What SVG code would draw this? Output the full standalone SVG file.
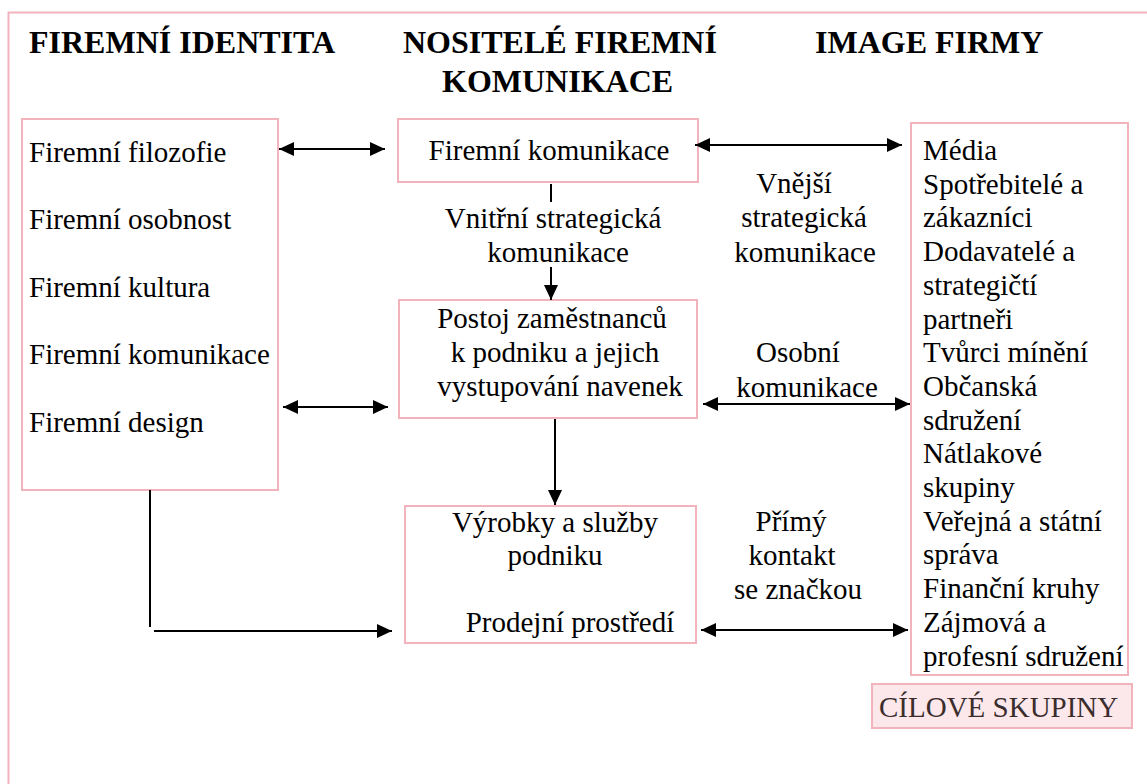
<svg xmlns="http://www.w3.org/2000/svg" width="1147" height="784" viewBox="0 0 1147 784" font-family="Liberation Serif, serif">
<style>
text{font-family:'Liberation Serif',serif;font-size:29px;fill:#000}
.h{font-weight:bold;font-size:32px}
.m{text-anchor:middle}
.box{fill:#fff;stroke:#f2b3bc;stroke-width:2}
.ln{stroke:#000;stroke-width:2;fill:none}
</style>
<defs>
<marker id="ah" viewBox="0 0 15 14" refX="15" refY="7" markerWidth="15" markerHeight="14" markerUnits="userSpaceOnUse" orient="auto-start-reverse">
<path d="M0,0 L15,7 L0,14 z" fill="#000"/>
</marker>
</defs>
<rect x="0" y="0" width="1147" height="784" fill="#fff"/>
<rect id="frame" x="8.5" y="12.5" width="1200" height="800" fill="none" stroke="#f2b3bc" stroke-width="2"/>
<g id="headings">
<text class="h" x="29" y="53">FIREMNÍ IDENTITA</text>
<text class="h" x="403" y="53">NOSITELÉ FIREMNÍ</text>
<text class="h" x="442" y="92">KOMUNIKACE</text>
<text class="h" x="815" y="53">IMAGE FIRMY</text>
</g>
<g id="identita">
<rect class="box" x="22" y="119" width="256" height="371"/>
<text x="29" y="162">Firemní filozofie</text>
<text x="29" y="229">Firemní osobnost</text>
<text x="29" y="297">Firemní kultura</text>
<text x="29" y="364">Firemní komunikace</text>
<text x="29" y="432">Firemní design</text>
</g>
<g id="komunikace">
<rect class="box" x="398" y="119" width="300" height="63"/>
<text class="m" x="549" y="160">Firemní komunikace</text>
</g>
<g id="postoj">
<rect class="box" x="399" y="300" width="298" height="118"/>
<text class="m" x="552" y="328">Postoj zaměstnanců</text>
<text class="m" x="555" y="362">k podniku a jejich</text>
<text class="m" x="560" y="396">vystupování navenek</text>
</g>
<g id="vyrobky">
<rect class="box" x="405" y="506" width="291" height="137"/>
<text class="m" x="555" y="532">Výrobky a služby</text>
<text class="m" x="555" y="565">podniku</text>
<text class="m" x="570" y="632">Prodejní prostředí</text>
</g>
<g id="skupiny">
<rect class="box" x="911" y="123" width="217" height="552"/>
<text x="923" y="160">Média</text>
<text x="923" y="193.7">Spotřebitelé a</text>
<text x="923" y="227.4">zákazníci</text>
<text x="923" y="261.1">Dodavatelé a</text>
<text x="923" y="294.8">strategičtí</text>
<text x="923" y="328.5">partneři</text>
<text x="923" y="362.2">Tvůrci mínění</text>
<text x="923" y="395.9">Občanská</text>
<text x="923" y="429.6">sdružení</text>
<text x="923" y="463.3">Nátlakové</text>
<text x="923" y="497">skupiny</text>
<text x="923" y="530.7">Veřejná a státní</text>
<text x="923" y="564.4">správa</text>
<text x="923" y="598.1">Finanční kruhy</text>
<text x="923" y="631.8">Zájmová a</text>
<text x="923" y="665.5">profesní sdružení</text>
</g>
<g id="cilove">
<rect x="872" y="684" width="260" height="44" fill="#fce8ea" stroke="#f2b3bc" stroke-width="2"/>
<text x="879" y="717" style="fill:#3b2d2d">CÍLOVÉ SKUPINY</text>
</g>
<g id="labels">
<text class="m" x="553" y="228">Vnitřní strategická</text>
<text class="m" x="558" y="262">komunikace</text>
<text class="m" x="794" y="193">Vnější</text>
<text class="m" x="804" y="227">strategická</text>
<text class="m" x="805" y="262">komunikace</text>
<text class="m" x="798" y="362">Osobní</text>
<text class="m" x="807" y="397">komunikace</text>
<text class="m" x="791" y="531">Přímý</text>
<text class="m" x="792" y="565">kontakt</text>
<text class="m" x="798" y="599">se značkou</text>
</g>
<g id="connectors">
<line class="ln" x1="279" y1="149" x2="385" y2="149" marker-start="url(#ah)" marker-end="url(#ah)"/>
<line class="ln" x1="283" y1="407" x2="388" y2="407" marker-start="url(#ah)" marker-end="url(#ah)"/>
<line class="ln" x1="695" y1="145" x2="902" y2="145" marker-start="url(#ah)" marker-end="url(#ah)"/>
<line class="ln" x1="703" y1="404" x2="910" y2="404" marker-start="url(#ah)" marker-end="url(#ah)"/>
<line class="ln" x1="701" y1="630" x2="908" y2="630" marker-start="url(#ah)" marker-end="url(#ah)"/>
<line class="ln" x1="551" y1="184" x2="551" y2="202"/>
<line class="ln" x1="551" y1="267" x2="551" y2="300" marker-end="url(#ah)"/>
<line class="ln" x1="555" y1="419" x2="555" y2="505" marker-end="url(#ah)"/>
<line class="ln" x1="150" y1="490" x2="150" y2="627"/>
<line class="ln" x1="154" y1="631" x2="392" y2="631" marker-end="url(#ah)"/>
</g>
</svg>
